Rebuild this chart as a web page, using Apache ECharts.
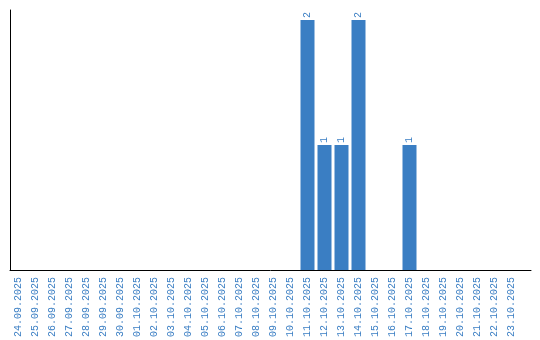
<!DOCTYPE html>
<html><head><meta charset="utf-8">
<script src="https://cdn.jsdelivr.net/npm/echarts@6/dist/echarts.min.js"></script>
<style>html,body{margin:0;padding:0;background:#fff}#c{width:540px;height:340px}</style>
</head><body><div id="c"></div>
<script>
const categories = ["24.09.2025","25.09.2025","26.09.2025","27.09.2025","28.09.2025","29.09.2025","30.09.2025","01.10.2025","02.10.2025","03.10.2025","04.10.2025","05.10.2025","06.10.2025","07.10.2025","08.10.2025","09.10.2025","10.10.2025","11.10.2025","12.10.2025","13.10.2025","14.10.2025","15.10.2025","16.10.2025","17.10.2025","18.10.2025","19.10.2025","20.10.2025","21.10.2025","22.10.2025","23.10.2025"];
const values = [0,0,0,0,0,0,0,0,0,0,0,0,0,0,0,0,0,2,1,1,2,0,0,1,0,0,0,0,0,0];
const blue = '#3a7ec3';
const chart = echarts.init(document.getElementById('c'), null, {renderer:'canvas'});
chart.setOption({
  animation:false,
  grid:[
    {left:10, top:10, width:510, height:260, containLabel:false},
    {left:10, top:10, width:521, height:260, containLabel:false}
  ],
  xAxis:[
    {type:'category', gridIndex:0, data:categories,
     axisLine:{show:false}, axisTick:{show:false},
     axisLabel:{rotate:90, interval:0, margin:7, color:blue, fontFamily:'Liberation Mono', fontSize:10}},
    {type:'value', gridIndex:1, min:0, max:1, axisLine:{show:true, lineStyle:{color:'#000', width:1}},
     axisTick:{show:false}, axisLabel:{show:false}, splitLine:{show:false}}
  ],
  yAxis:[
    {type:'value', gridIndex:0, min:0, max:2.08,
     axisLine:{show:true, lineStyle:{color:'#000', width:1}}, axisTick:{show:false},
     axisLabel:{show:false}, splitLine:{show:false}},
    {type:'value', gridIndex:1, min:0, max:1, show:false}
  ],
  series:[{
    type:'bar', xAxisIndex:0, yAxisIndex:0, data:values.map(v => v === 0 ? null : v),
    barWidth:14,
    itemStyle:{color:blue},
    label:{show:true, position:'top', rotate:90, color:blue, fontFamily:'Liberation Mono', fontSize:10, distance:2, align:'left', verticalAlign:'middle'}
  }]
});
</script></body></html>
